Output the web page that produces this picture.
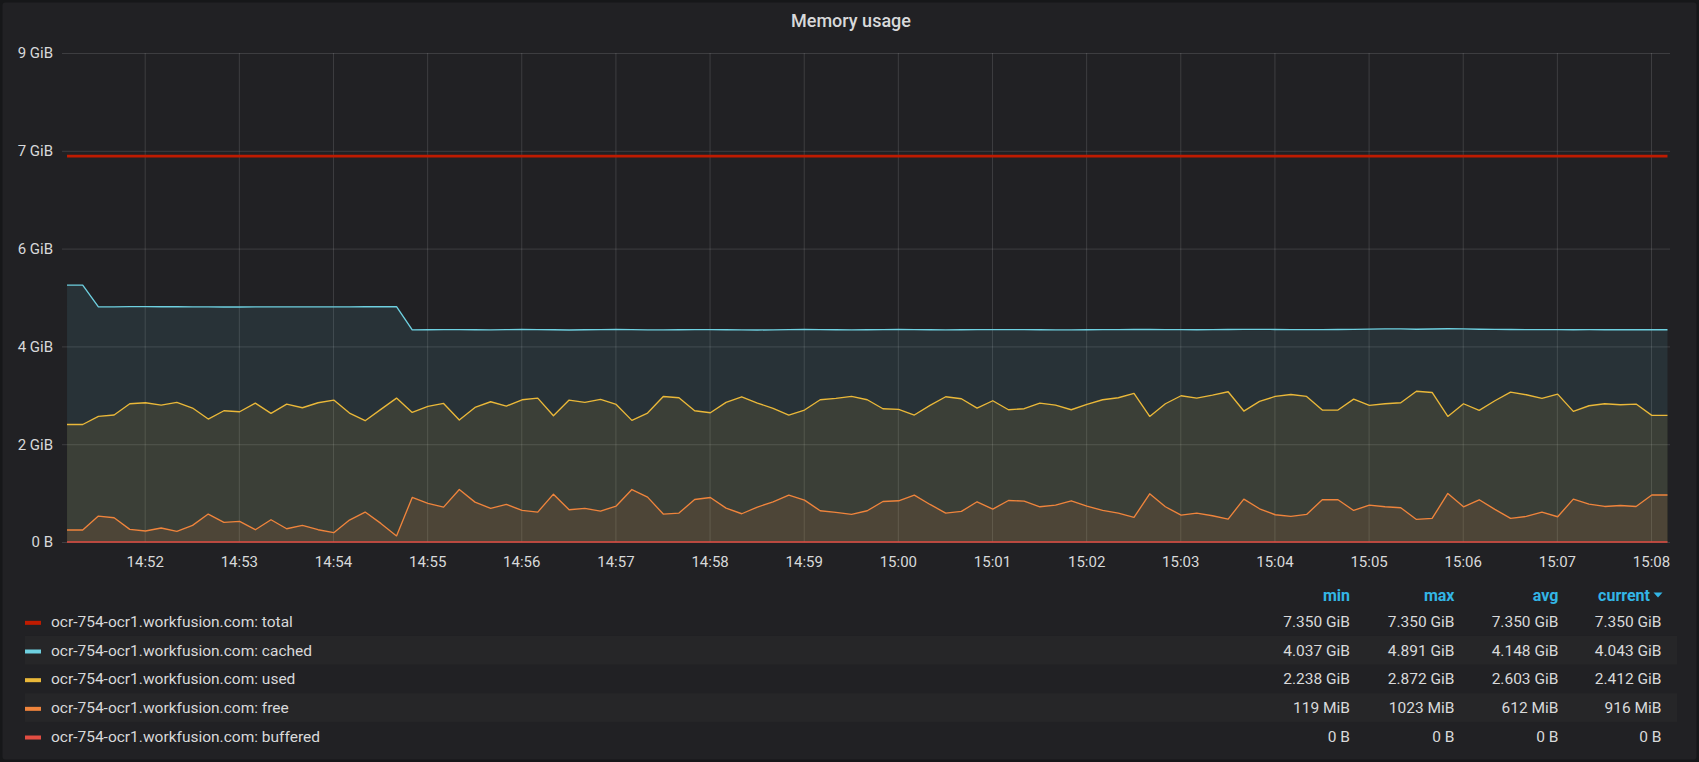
<!DOCTYPE html>
<html>
<head>
<meta charset="utf-8">
<title>Memory usage</title>
<script src="https://cdn.jsdelivr.net/npm/d3@7"></script>
<style>
  html, body { margin: 0; padding: 0; background: #161719; }
  svg { display: block; font-family: Roboto, "Helvetica Neue", Arial, sans-serif; }
</style>
</head>
<body>
<div id="chart"></div>
<script>
const GIB = 1073741824;
const hostName = "ocr-754-ocr1.workfusion.com";
const seriesNames = ["total", "cached", "used", "free", "buffered"];
const seriesColors = ["#bf1b00", "#6ed0e0", "#eab839", "#ef843c", "#e24d42"];

// samples every 10 s, first one at 14:51:10
const startTime = new Date(2019, 0, 1, 14, 51, 10, 500);
const stepSeconds = 10;

// values in GiB
const total = [
  7.35, 7.35, 7.35, 7.35, 7.35, 7.35, 7.35, 7.35, 7.35, 7.35,
  7.35, 7.35, 7.35, 7.35, 7.35, 7.35, 7.35, 7.35, 7.35, 7.35,
  7.35, 7.35, 7.35, 7.35, 7.35, 7.35, 7.35, 7.35, 7.35, 7.35,
  7.35, 7.35, 7.35, 7.35, 7.35, 7.35, 7.35, 7.35, 7.35, 7.35,
  7.35, 7.35, 7.35, 7.35, 7.35, 7.35, 7.35, 7.35, 7.35, 7.35,
  7.35, 7.35, 7.35, 7.35, 7.35, 7.35, 7.35, 7.35, 7.35, 7.35,
  7.35, 7.35, 7.35, 7.35, 7.35, 7.35, 7.35, 7.35, 7.35, 7.35,
  7.35, 7.35, 7.35, 7.35, 7.35, 7.35, 7.35, 7.35, 7.35, 7.35,
  7.35, 7.35, 7.35, 7.35, 7.35, 7.35, 7.35, 7.35, 7.35, 7.35,
  7.35, 7.35, 7.35, 7.35, 7.35, 7.35, 7.35, 7.35, 7.35, 7.35,
  7.35, 7.35, 7.35
];
const cached = [
  4.891, 4.891, 4.478, 4.479, 4.482, 4.483, 4.481, 4.480, 4.478, 4.477,
  4.476, 4.476, 4.477, 4.477, 4.478, 4.478, 4.478, 4.479, 4.479, 4.480,
  4.481, 4.483, 4.041, 4.043, 4.045, 4.044, 4.042, 4.040, 4.044, 4.047,
  4.046, 4.043, 4.038, 4.042, 4.046, 4.048, 4.045, 4.041, 4.039, 4.043,
  4.045, 4.044, 4.042, 4.040, 4.037, 4.041, 4.045, 4.047, 4.046, 4.043,
  4.040, 4.042, 4.045, 4.047, 4.045, 4.043, 4.041, 4.042, 4.044, 4.046,
  4.045, 4.044, 4.043, 4.041, 4.040, 4.042, 4.044, 4.046, 4.048, 4.047,
  4.046, 4.044, 4.043, 4.045, 4.047, 4.049, 4.050, 4.048, 4.046, 4.044,
  4.045, 4.047, 4.049, 4.055, 4.060, 4.058, 4.052, 4.056, 4.062, 4.058,
  4.052, 4.049, 4.047, 4.046, 4.045, 4.044, 4.043, 4.044, 4.043, 4.042,
  4.043, 4.043, 4.043
];
const used = [
  2.238, 2.238, 2.392, 2.418, 2.633, 2.652, 2.608, 2.658, 2.551, 2.342,
  2.500, 2.481, 2.646, 2.449, 2.627, 2.557, 2.652, 2.703, 2.456, 2.310,
  2.525, 2.741, 2.468, 2.582, 2.639, 2.323, 2.563, 2.671, 2.589, 2.709,
  2.741, 2.405, 2.703, 2.658, 2.715, 2.620, 2.316, 2.456, 2.772, 2.747,
  2.500, 2.462, 2.658, 2.766, 2.646, 2.544, 2.418, 2.513, 2.709, 2.734,
  2.772, 2.709, 2.538, 2.525, 2.418, 2.601, 2.766, 2.728, 2.551, 2.690,
  2.519, 2.538, 2.646, 2.608, 2.519, 2.620, 2.709, 2.747, 2.829, 2.392,
  2.633, 2.785, 2.741, 2.797, 2.861, 2.494, 2.677, 2.772, 2.810, 2.772,
  2.513, 2.513, 2.722, 2.601, 2.633, 2.652, 2.872, 2.848, 2.392, 2.633,
  2.506, 2.690, 2.854, 2.804, 2.734, 2.816, 2.487, 2.595, 2.633, 2.614,
  2.627, 2.412, 2.412
];
const free = [
  0.228, 0.228, 0.494, 0.462, 0.241, 0.209, 0.266, 0.203, 0.316, 0.532,
  0.373, 0.392, 0.234, 0.424, 0.253, 0.316, 0.234, 0.177, 0.418, 0.570,
  0.354, 0.116, 0.848, 0.734, 0.665, 0.999, 0.759, 0.639, 0.715, 0.601,
  0.570, 0.911, 0.614, 0.639, 0.589, 0.684, 0.999, 0.854, 0.532, 0.551,
  0.810, 0.848, 0.646, 0.538, 0.665, 0.766, 0.892, 0.797, 0.595, 0.563,
  0.525, 0.595, 0.772, 0.785, 0.892, 0.715, 0.551, 0.582, 0.766, 0.627,
  0.791, 0.778, 0.671, 0.703, 0.785, 0.684, 0.601, 0.551, 0.468, 0.918,
  0.671, 0.513, 0.551, 0.500, 0.437, 0.816, 0.633, 0.519, 0.487, 0.525,
  0.804, 0.804, 0.601, 0.703, 0.671, 0.652, 0.430, 0.449, 0.924, 0.671,
  0.804, 0.620, 0.449, 0.487, 0.570, 0.481, 0.816, 0.722, 0.677, 0.696,
  0.677, 0.895, 0.895
];
const buffered = [
  0, 0, 0, 0, 0, 0, 0, 0, 0, 0, 0, 0, 0, 0, 0, 0, 0, 0, 0, 0,
  0, 0, 0, 0, 0, 0, 0, 0, 0, 0, 0, 0, 0, 0, 0, 0, 0, 0, 0, 0,
  0, 0, 0, 0, 0, 0, 0, 0, 0, 0, 0, 0, 0, 0, 0, 0, 0, 0, 0, 0,
  0, 0, 0, 0, 0, 0, 0, 0, 0, 0, 0, 0, 0, 0, 0, 0, 0, 0, 0, 0,
  0, 0, 0, 0, 0, 0, 0, 0, 0, 0, 0, 0, 0, 0, 0, 0, 0, 0, 0, 0,
  0, 0, 0
];

const yTickBytes = [0, 2e9, 4e9, 6e9, 8e9, 10e9];
const yTickLabels = ["0 B", "2 GiB", "4 GiB", "6 GiB", "7 GiB", "9 GiB"];

const legendHeaders = ["min", "max", "avg", "current"];
const legendMin = ["7.350 GiB", "4.037 GiB", "2.238 GiB", "119 MiB", "0 B"];
const legendMax = ["7.350 GiB", "4.891 GiB", "2.872 GiB", "1023 MiB", "0 B"];
const legendAvg = ["7.350 GiB", "4.148 GiB", "2.603 GiB", "612 MiB", "0 B"];
const legendCurrent = ["7.350 GiB", "4.043 GiB", "2.412 GiB", "916 MiB", "0 B"];

const width = 1699;
const height = 762;
const plot = { left: 62, right: 1670, top: 53, bottom: 542 };
const textColor = "#d8d9da";
const gridColor = "rgba(255,255,255,0.13)";

const svg = d3
  .select("#chart")
  .append("svg")
  .attr("width", width)
  .attr("height", height);

svg
  .append("rect")
  .attr("x", 2.5)
  .attr("y", 2.5)
  .attr("width", width - 5)
  .attr("height", height - 5)
  .attr("rx", 3)
  .attr("fill", "#212124");

svg
  .append("text")
  .attr("x", 851)
  .attr("y", 27)
  .attr("text-anchor", "middle")
  .attr("fill", textColor)
  .attr("font-size", "18px")
  .attr("font-weight", 500)
  .text("Memory usage");

const x = d3
  .scaleTime()
  .domain([new Date(2019, 0, 1, 14, 51, 7, 300), new Date(2019, 0, 1, 15, 8, 12, 100)])
  .range([plot.left, plot.right]);

const y = d3
  .scaleLinear()
  .domain([0, 10e9 / GIB])
  .range([plot.bottom, plot.top]);

// axes double as grid lines
const yAxis = svg
  .append("g")
  .attr("transform", "translate(" + plot.left + ",0)")
  .call(
    d3
      .axisLeft(y)
      .tickValues(yTickBytes.map((b) => b / GIB))
      .tickFormat((d, i) => yTickLabels[i])
      .tickSize(-(plot.right - plot.left))
      .tickPadding(9)
  );

const xAxis = svg
  .append("g")
  .attr("transform", "translate(0," + plot.bottom + ")")
  .call(
    d3
      .axisBottom(x)
      .ticks(d3.timeMinute.every(1))
      .tickFormat(d3.timeFormat("%H:%M"))
      .tickSize(-(plot.bottom - plot.top))
      .tickPadding(14)
  );

[yAxis, xAxis].forEach(function (g) {
  g.select(".domain").remove();
  g.selectAll(".tick line").attr("stroke", gridColor).attr("stroke-width", 1);
  g.selectAll(".tick text")
    .attr("fill", textColor)
    .attr("font-size", "15px")
    .attr("font-family", "Roboto, sans-serif");
});

const times = total.map((v, i) => new Date(startTime.getTime() + i * stepSeconds * 1000));
const seriesValues = [total, cached, used, free, buffered];
const seriesFill = [false, true, true, true, true];

const area = d3
  .area()
  .x((d, i) => x(times[i]))
  .y0(y(0))
  .y1((d) => y(d));

const line = d3
  .line()
  .x((d, i) => x(times[i]))
  .y((d) => y(d));

seriesValues.forEach(function (values, k) {
  if (!seriesFill[k]) return;
  svg
    .append("path")
    .datum(values)
    .attr("d", area)
    .attr("fill", seriesColors[k])
    .attr("fill-opacity", 0.1);
});

seriesValues.forEach(function (values, k) {
  svg
    .append("path")
    .datum(values)
    .attr("d", line)
    .attr("fill", "none")
    .attr("stroke", seriesColors[k])
    .attr("stroke-width", k === 0 ? 2.7 : 1.35)
    .attr("stroke-linejoin", "round");
});

//////////////////////////////// legend table ////////////////////////////////

const rowTop = 607.3;
const rowHeight = 28.67;
const columnRight = [1350, 1454.5, 1558.4, 1661.5];
const columns = [legendMin, legendMax, legendAvg, legendCurrent];

const headerG = svg.append("g");
legendHeaders.forEach(function (h, j) {
  headerG
    .append("text")
    .attr("x", j === 3 ? 1650 : columnRight[j])
    .attr("y", 600.8)
    .attr("text-anchor", "end")
    .attr("fill", "#33b5e5")
    .attr("font-size", "16px")
    .attr("font-weight", "bold")
    .text(h);
});
headerG
  .append("path")
  .attr("d", "M1653.5,592.5L1662.5,592.5L1658,597.5Z")
  .attr("fill", "#33b5e5");

seriesNames.forEach(function (name, i) {
  const top = rowTop + i * rowHeight;
  const mid = top + rowHeight / 2;
  const row = svg.append("g");
  if (i % 2 === 1) {
    row
      .append("rect")
      .attr("x", 25)
      .attr("y", top)
      .attr("width", 1677 - 25)
      .attr("height", rowHeight)
      .attr("fill", "#262628");
  }
  row
    .append("rect")
    .attr("x", 25)
    .attr("y", mid - 0.8)
    .attr("width", 16)
    .attr("height", 4)
    .attr("fill", seriesColors[i]);
  row
    .append("text")
    .attr("x", 51)
    .attr("y", mid + 5.5)
    .attr("fill", textColor)
    .attr("font-size", "15.5px")
    .text(hostName + ": " + name);
  columns.forEach(function (col, j) {
    row
      .append("text")
      .attr("x", columnRight[j])
      .attr("y", mid + 5.5)
      .attr("text-anchor", "end")
      .attr("fill", textColor)
      .attr("font-size", "15.5px")
      .text(col[i]);
  });
});
</script>
</body>
</html>
